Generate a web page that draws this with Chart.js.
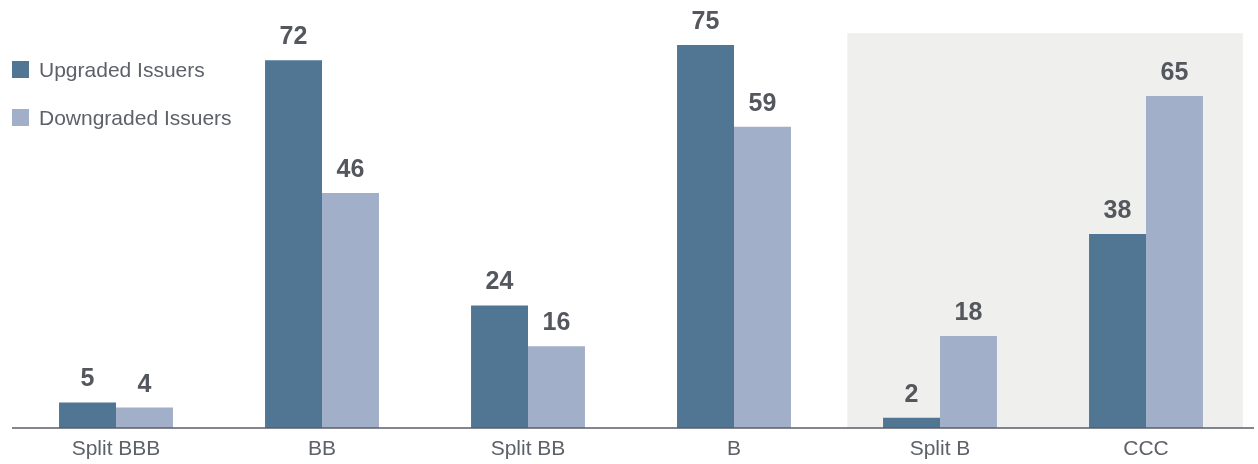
<!DOCTYPE html>
<html>
<head>
<meta charset="utf-8">
<script src="https://cdn.jsdelivr.net/npm/chart.js@4"></script>
<style>
  html,body{margin:0;padding:0;background:#fff;}
  #wrap{position:relative;width:1258px;height:464px;}
  canvas{position:absolute;left:0;top:0;}
  .legend{position:absolute;left:12px;font-family:"Liberation Sans",Arial,sans-serif;font-size:21px;color:#5d6168;line-height:17px;white-space:nowrap;}
  .legend i{display:inline-block;width:17px;height:17px;vertical-align:top;margin-right:10px;}
</style>
</head>
<body>
<div id="wrap">
  <canvas id="c" width="1258" height="464"></canvas>
  <div class="legend" style="top:61px"><i style="background:#517693"></i>Upgraded Issuers</div>
  <div class="legend" style="top:109px"><i style="background:#a2afc8"></i>Downgraded Issuers</div>
</div>
<script>
const categories = ['Split BBB','BB','Split BB','B','Split B','CCC'];
const upgraded = [5,72,24,75,2,38];
const downgraded = [4,46,16,59,18,65];
const shadedFrom = 4; // Split B onward
const shadeTop = 77.3;

const shadePlugin = {
  id:'shade',
  beforeDatasetsDraw(chart){
    const {ctx, scales:{x,y}} = chart;
    const w = x.getPixelForTick(1) - x.getPixelForTick(0);
    const left = x.getPixelForTick(shadedFrom) - 0.45*w;
    const right = x.getPixelForTick(categories.length-1) + 0.47*w;
    const top = y.getPixelForValue(shadeTop);
    ctx.save();
    ctx.fillStyle = '#efefed';
    ctx.fillRect(left, top, right-left, y.getPixelForValue(0)-top);
    ctx.restore();
  },
  afterDraw(chart){
    // axis line runs a little past the last category
    const {ctx, chartArea, scales:{y}} = chart;
    const yy = y.getPixelForValue(0);
    ctx.save();
    ctx.strokeStyle = '#5a5e66';
    ctx.lineWidth = 1.5;
    ctx.beginPath();
    ctx.moveTo(chartArea.left - 1, yy);
    ctx.lineTo(chartArea.right + 5, yy);
    ctx.stroke();
    ctx.restore();
  }
};

const labelPlugin = {
  id:'vals',
  afterDatasetsDraw(chart){
    const {ctx} = chart;
    ctx.save();
    ctx.font = 'bold 25px "Liberation Sans", Arial, sans-serif';
    ctx.fillStyle = '#54575d';
    ctx.textAlign = 'center';
    ctx.textBaseline = 'alphabetic';
    chart.data.datasets.forEach((ds,i)=>{
      chart.getDatasetMeta(i).data.forEach((bar,j)=>{
        ctx.fillText(ds.data[j], bar.x, bar.y - 16);
      });
    });
    ctx.restore();
  }
};

new Chart(document.getElementById('c'), {
  type:'bar',
  data:{
    labels: categories,
    datasets:[
      {label:'Upgraded Issuers', data:upgraded, backgroundColor:'#517693', barPercentage:1, categoryPercentage:0.553},
      {label:'Downgraded Issuers', data:downgraded, backgroundColor:'#a2afc8', barPercentage:1, categoryPercentage:0.553}
    ]
  },
  options:{
    responsive:false, animation:false,
    layout:{padding:{left:13, right:9, top:19.4, bottom:0}},
    plugins:{legend:{display:false}, tooltip:{enabled:false}},
    scales:{
      x:{
        grid:{display:false, drawTicks:false},
        border:{display:false},
        ticks:{color:'#5d6168', padding:9, font:{family:'"Liberation Sans", Arial, sans-serif', size:21}},
        afterFit(s){ s.height = 36; }
      },
      y:{display:false, min:0, max:80}
    }
  },
  plugins:[shadePlugin, labelPlugin]
});
</script>
</body>
</html>
